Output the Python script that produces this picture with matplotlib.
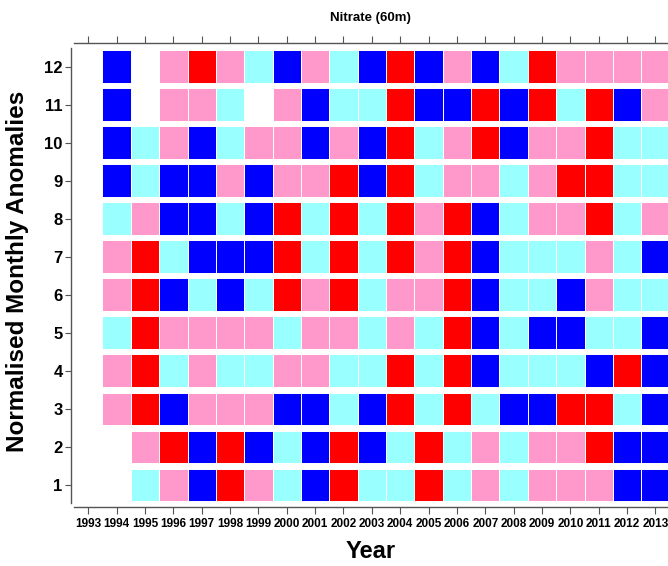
import matplotlib.pyplot as plt

years = list(range(1994, 2014))
months = list(range(1, 13))

# anomaly class per month, one entry per year 1994-2013
# B = strong negative, C = weak negative, P = weak positive, R = strong positive, '' = no data
m1 = ['', 'C', 'P', 'B', 'R', 'P', 'C', 'B', 'R', 'C', 'C', 'R', 'C', 'P', 'C', 'P', 'P', 'P', 'B', 'B']
m2 = ['', 'P', 'R', 'B', 'R', 'B', 'C', 'B', 'R', 'B', 'C', 'R', 'C', 'P', 'C', 'P', 'P', 'R', 'B', 'B']
m3 = ['P', 'R', 'B', 'P', 'P', 'P', 'B', 'B', 'C', 'B', 'R', 'C', 'R', 'C', 'B', 'B', 'R', 'R', 'C', 'B']
m4 = ['P', 'R', 'C', 'P', 'C', 'C', 'P', 'P', 'C', 'C', 'R', 'C', 'R', 'B', 'C', 'C', 'C', 'B', 'R', 'B']
m5 = ['C', 'R', 'P', 'P', 'P', 'P', 'C', 'P', 'P', 'C', 'P', 'C', 'R', 'B', 'C', 'B', 'B', 'C', 'C', 'B']
m6 = ['P', 'R', 'B', 'C', 'B', 'C', 'R', 'P', 'R', 'C', 'P', 'P', 'R', 'B', 'C', 'C', 'B', 'P', 'C', 'C']
m7 = ['P', 'R', 'C', 'B', 'B', 'B', 'R', 'C', 'R', 'C', 'R', 'P', 'R', 'B', 'C', 'C', 'C', 'P', 'C', 'B']
m8 = ['C', 'P', 'B', 'B', 'C', 'B', 'R', 'C', 'R', 'C', 'R', 'P', 'R', 'B', 'C', 'P', 'P', 'R', 'C', 'P']
m9 = ['B', 'C', 'B', 'B', 'P', 'B', 'P', 'P', 'R', 'B', 'R', 'C', 'P', 'P', 'C', 'P', 'R', 'R', 'C', 'C']
m10 = ['B', 'C', 'P', 'B', 'C', 'P', 'P', 'B', 'P', 'B', 'R', 'C', 'P', 'R', 'B', 'P', 'P', 'R', 'C', 'C']
m11 = ['B', '', 'P', 'P', 'C', '', 'P', 'B', 'C', 'C', 'R', 'B', 'B', 'R', 'B', 'R', 'C', 'R', 'B', 'P']
m12 = ['B', '', 'P', 'R', 'P', 'C', 'B', 'P', 'C', 'B', 'R', 'B', 'P', 'B', 'C', 'R', 'P', 'P', 'P', 'P']
rows = [m1, m2, m3, m4, m5, m6, m7, m8, m9, m10, m11, m12]

tick_years = list(range(1993, 2014))
colors = {'B': '#0000FF', 'C': '#99FFFF', 'P': '#FF99CC', 'R': '#FF0000'}


def main():
    plt.rcParams['font.family'] = ['Liberation Sans', 'DejaVu Sans']
    plt.rcParams['font.weight'] = 'bold'
    fig = plt.figure(figsize=(6.68, 5.66), dpi=100)
    ax = fig.add_axes([71 / 668, 59 / 566, 598 / 668, 464 / 566])

    for m, row in zip(months, rows):
        xs = [y for y, c in zip(years, row) if c]
        cs = [colors[c] for c in row if c]
        ax.bar(xs, 0.86, bottom=m - 0.43, width=1.0, color=cs,
               edgecolor='white', linewidth=0.7)

    ax.set_xlim(1992.39, 2013.48)
    ax.set_ylim(0.42, 12.62)
    ax.set_xticks(tick_years)
    ax.set_xticklabels([str(y) for y in tick_years], fontsize=8.5, fontweight='bold')
    ax.set_yticks(months)
    ax.set_yticklabels([str(m) for m in months], fontsize=12, fontweight='bold')

    ax.spines['right'].set_visible(False)
    for s in ['left', 'top', 'bottom']:
        ax.spines[s].set_color('#555555')
        ax.spines[s].set_linewidth(1.0)
    ax.spines['left'].set_bounds(0.53, 12.49)
    ax.spines['top'].set_bounds(1992.5, 2013.48)
    ax.spines['bottom'].set_bounds(1992.5, 2013.48)

    ax.tick_params(axis='x', top=True, direction='out', length=5, color='#555555', pad=3)
    ax.tick_params(axis='y', direction='out', length=4, color='#555555', pad=2)

    fig.text(370 / 668, 1 - 18 / 566, 'Nitrate (60m)', ha='center', va='center',
             fontsize=9.5, fontweight='bold')
    fig.text(371 / 668, 15 / 566, 'Year', ha='center', va='center',
             fontsize=17, fontweight='bold')
    fig.text(18 / 668, 1 - 271 / 566, 'Normalised Monthly Anomalies', ha='center',
             va='center', rotation=90, fontsize=17.5, fontweight='bold')

    fig.savefig('out.png', dpi=100)


if __name__ == "__main__":
    main()
